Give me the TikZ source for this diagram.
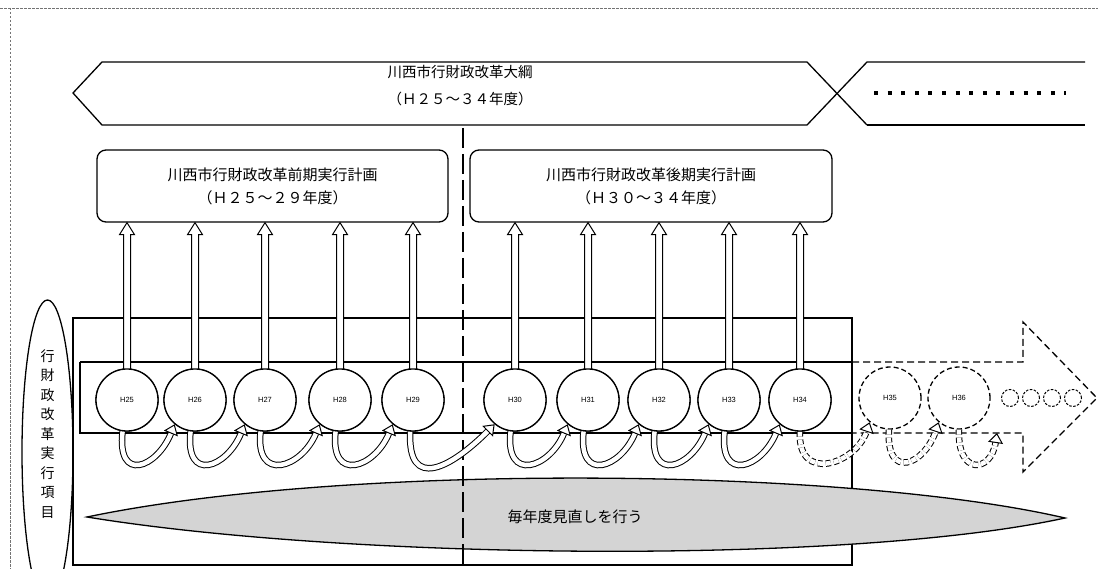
\documentclass[tikz,border=0pt]{standalone}
\usepackage{fontspec}
\setmainfont{Liberation Sans}
\newfontfamily\cjk{Noto Sans CJK JP}
\usetikzlibrary{arrows.meta,calc}
\newcommand\uparr[2]{%
  \draw[harrow] ($(#1.north)+(-3.5,2)$) -- ($(#1.north |- #2.south)+(-3.5,12)$) -- ++(-4,0)
    -- (#1.north |- #2.south) -- ($(#1.north |- #2.south)+(7.5,12)$) -- ++(-4,0)
    -- ($(#1.north)+(3.5,2)$);}
\begin{document}
\begin{tikzpicture}[x=1pt,y=-1pt,
  bord/.style={draw=black!55, line width=0.6pt, dash pattern=on 2.5pt off 1.5pt},
  outl/.style={draw=black, line width=1.3pt},
  box/.style={draw=black, line width=1.3pt, rounded corners=9pt, minimum height=72pt, align=center, font=\cjk\fontsize{15}{23}\selectfont, inner sep=0pt},
  ttl/.style={align=center, font=\cjk\fontsize{14.5}{27}\selectfont},
  yr/.style={circle, draw=black, line width=1.3pt, fill=white, minimum size=62pt, inner sep=0pt, font=\fontsize{7.5}{8}\selectfont},
  yrd/.style={yr, dash pattern=on 5pt off 3pt},
  sm/.style={circle, draw=black, line width=1pt, dash pattern=on 2.5pt off 1.5pt, minimum size=17pt, inner sep=0pt},
  harrow/.style={draw=black, line width=1pt, fill=white},
  carr/.style={draw=black, double=white, line width=1pt, double distance=4.5pt, -{Triangle[length=10pt, width=15pt, line width=1pt, fill=white]}},
  dcarr/.style={carr, dash pattern=on 5pt off 3pt},
  dsh/.style={draw=black, line width=1.3pt, dash pattern=on 7pt off 4pt},
  cdash/.style={draw=black, line width=1.8pt, dash pattern=on 20pt off 6pt},
]
\useasboundingbox (0,0) rectangle (1098,569);
\clip (0,0) rectangle (1098,569);
\fill[white] (0,0) rectangle (1098,569);

% border
\draw[bord] (0,8) -- (1098,8);
\draw[bord] (10,8) -- (10,569);

% outline (hexagon) shapes
\draw[outl] (867,125) -- (807,62) -- (102,62) -- (73,93) -- (102,125) -- (807,125) -- (867,62) -- (1085,62);
\draw[outl] (867,125) -- (1085,125);
\draw[line width=4pt, dash pattern=on 4pt off 9.6pt] (874,93) -- (1066,93);
\node[ttl] (title) at (460,85.5) {川西市行財政改革大綱\\（Ｈ２５～３４年度）};

% plan boxes
\node[box, minimum width=351pt] (p1) at (272.5,186) {川西市行財政改革前期実行計画\\（Ｈ２５～２９年度）};
\node[box, minimum width=362pt] (p2) at (651,186) {川西市行財政改革後期実行計画\\（Ｈ３０～３４年度）};

% rectangles
\draw[outl] (73,318) rectangle (852,565);
\draw[outl] (80,362) -- (852,362);
\draw[outl] (80,362) -- (80,433) -- (852,433);

% dashed big arrow
\draw[dsh] (852,362) -- (1023,362) -- (1023,322) -- (1097,398) -- (1023,472) -- (1023,433) -- (852,433);

% review ellipse
\draw[outl, fill=black!17] (87,517) .. controls (350,462) and (850,468) .. (1065,518)
   .. controls (850,565) and (350,560) .. cycle;
\node[font=\cjk\fontsize{15}{18}\selectfont] (rev) at (575,517) {毎年度見直しを行う};

% central dashed line
\draw[cdash] (463,128) -- (463,565);

% left ellipse
\draw[outl] (47.5,452) ellipse [x radius=25.5pt, y radius=152pt];
\node[align=center, font=\cjk\fontsize{14}{19.5}\selectfont] (vt) at (47.5,434)
  {行\\財\\政\\改\\革\\実\\行\\項\\目};

% year circles
\node[yr] (y25) at (127,400) {H25};
\node[yr] (y26) at (195,400) {H26};
\node[yr] (y27) at (265,400) {H27};
\node[yr] (y28) at (340,400) {H28};
\node[yr] (y29) at (413,400) {H29};
\node[yr] (y30) at (515,400) {H30};
\node[yr] (y31) at (588,400) {H31};
\node[yr] (y32) at (659,400) {H32};
\node[yr] (y33) at (729,400) {H33};
\node[yr] (y34) at (800,400) {H34};
\node[yrd] (y35) at (890,398) {H35};
\node[yrd] (y36) at (959,398) {H36};
\node[sm] (s1) at (1010,398) {};
\node[sm] (s2) at (1031,398) {};
\node[sm] (s3) at (1052,398) {};
\node[sm] (s4) at (1073,398) {};
\coordinate (e36) at (997,433);

% upward arrows
\foreach \c in {y25,y26,y27,y28,y29}{\uparr{\c}{p1}}
\foreach \c in {y30,y31,y32,y33,y34}{\uparr{\c}{p2}}

% curved arrows
\foreach \a/\b in {y25/y26,y26/y27,y27/y28,y28/y29,y30/y31,y31/y32,y32/y33,y33/y34}
  \draw[carr] (\a.-98) .. controls +(-6,52) and +(-18,44) .. (\b.-130);
\draw[carr] (y29.-95) .. controls +(-3,60) and +(-44,44) .. (y30.-130);
\draw[dcarr] (y34.-90) .. controls +(-3,52) and +(-14,42) .. (y35.-130);
\draw[dcarr] (y35.-92) .. controls +(-3,52) and +(-14,42) .. (y36.-130);
\draw[dcarr] (y36.-90) .. controls +(-2,46) and +(-6,40) .. (e36);

% redraw circles on top
\foreach \c/\t in {y25/H25,y26/H26,y27/H27,y28/H28,y29/H29,y30/H30,y31/H31,y32/H32,y33/H33,y34/H34}
  \node[yr] at (\c) {\t};
\end{tikzpicture}
\end{document}
